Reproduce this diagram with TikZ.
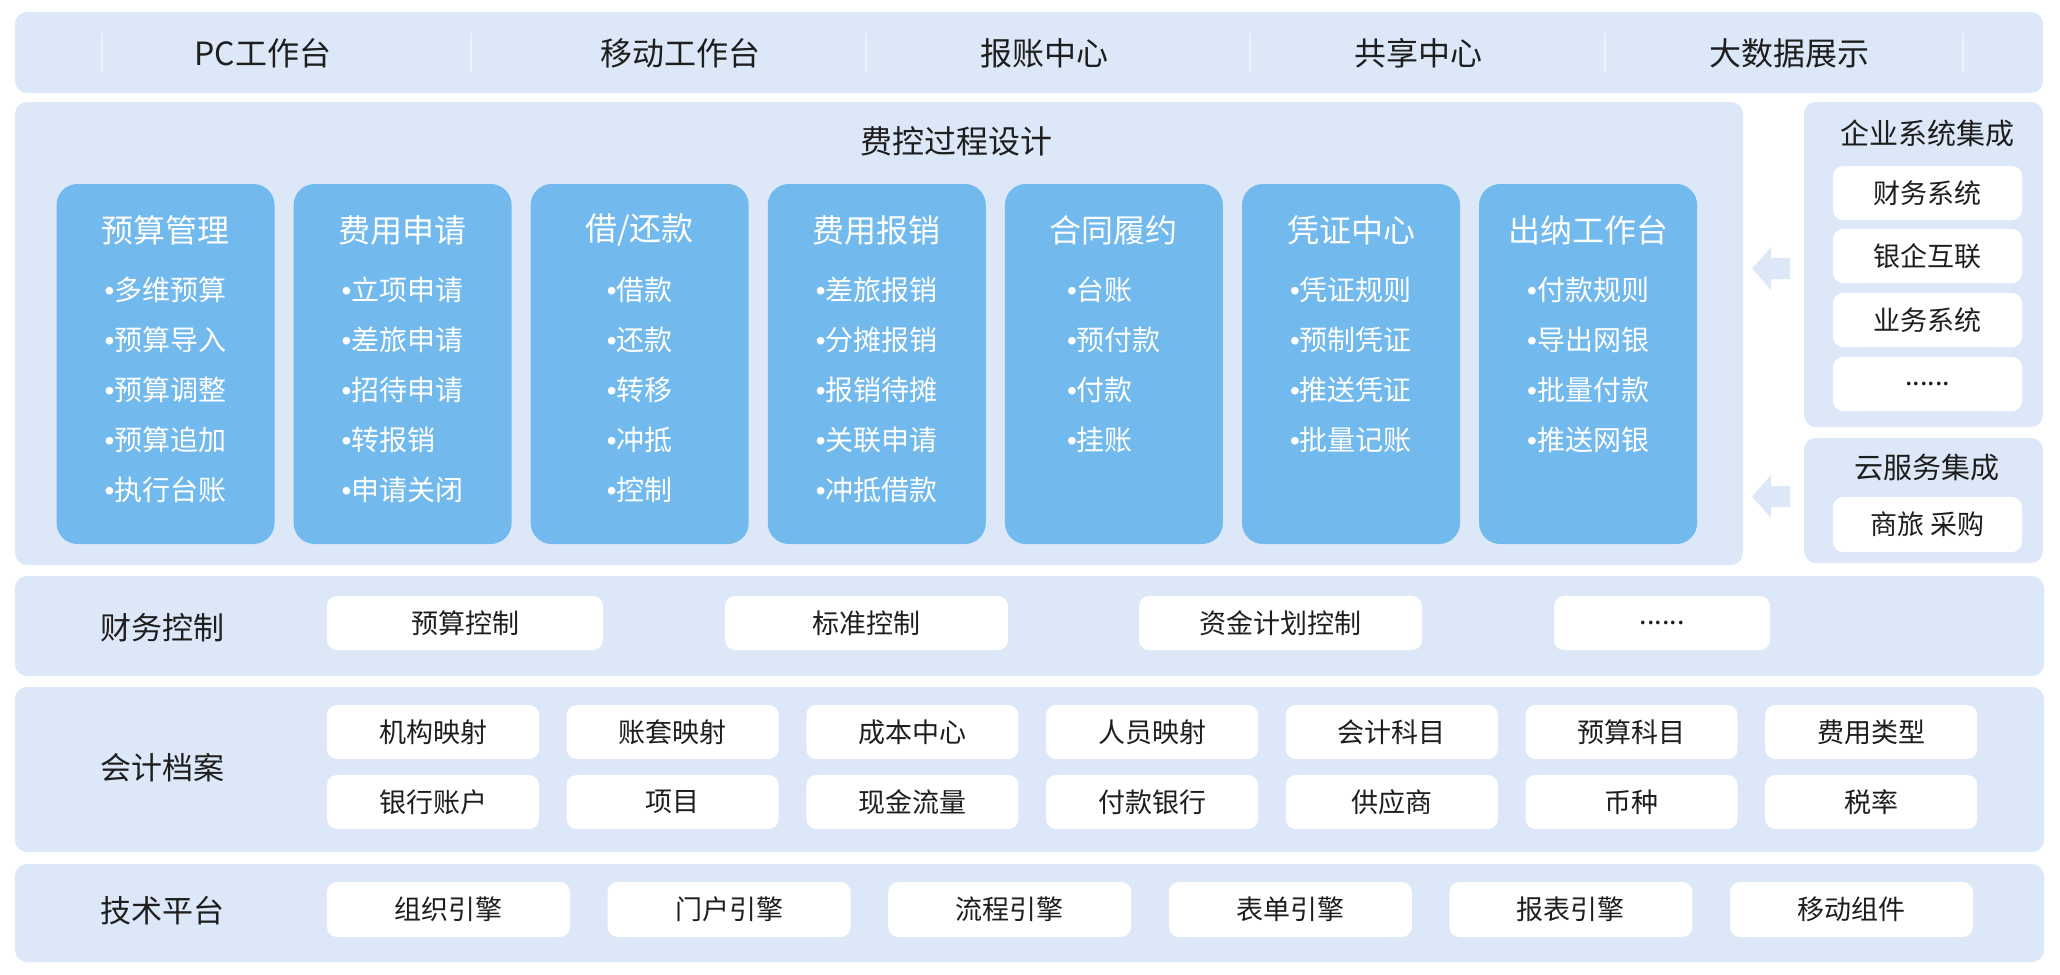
\documentclass[tikz,border=0pt]{standalone}
\usepackage{fontspec}
\setmainfont{Noto Sans CJK SC}
\newfontfamily\bulfont{Liberation Sans}
\definecolor{bandbg}{HTML}{DCE7F8}
\definecolor{boxblue}{HTML}{72B9EE}
\definecolor{sepcol}{HTML}{EDF3FC}
\definecolor{txt}{HTML}{1E1E1E}
\newcommand{\bul}{{\bulfont •}}
\begin{document}
\begin{tikzpicture}[x=1pt,y=-1pt,
  every node/.style={inner sep=0pt, outer sep=0pt, text=txt},
  band/.style args={#1x#2}{fill=bandbg, rounded corners=12pt, minimum width=#1, minimum height=#2},
  bluebox/.style={fill=boxblue, rounded corners=21pt, minimum width=218, minimum height=360},
  wbox/.style args={#1x#2}{fill=white, rounded corners=10pt, minimum width=#1, minimum height=#2, font=\fontsize{27}{27}\selectfont},
  toplabel/.style={font=\fontsize{32}{32}\selectfont},
  rowlabel/.style={font=\fontsize{31}{31}\selectfont},
  btitle/.style={text=white, font=\fontsize{32}{32}\selectfont},
  blist/.style={text=white, anchor=north, align=left, font=\fontsize{28}{50}\selectfont},
  rtitle/.style={font=\fontsize{29}{29}\selectfont},
  sepline/.style={draw=sepcol, line width=1.2pt},
  fatarrow/.style={fill=bandbg}
]
\useasboundingbox (0,0) rectangle (2060,974);
\fill[white] (0,0) rectangle (2060,974);

% ---------- top band ----------
\node[band=2028x81] (top) at (1029,52.5) {};
\foreach \sx in {102,471,866,1250,1605,1963}{
  \draw[sepline] (\sx,33) -- (\sx,73);
}
\node[toplabel] (pc)  at (263,53)  {PC工作台};
\node[toplabel] (mob) at (680,53)  {移动工作台};
\node[toplabel] (bz)  at (1044,53) {报账中心};
\node[toplabel] (gx)  at (1418,53) {共享中心};
\node[toplabel] (dsj) at (1789,53) {大数据展示};

% ---------- main panel ----------
\node[band=1728x463] (main) at (879,333.5) {};
\node[toplabel] (mtitle) at (956,141) {费控过程设计};

\node[bluebox] (b1) at (165.5,364) {};
\node[btitle] (t1) at (165.5,230) {预算管理};
\node[blist] (l1) at (165.5,277) {\bul 多维预算\\\bul 预算导入\\\bul 预算调整\\\bul 预算追加\\\bul 执行台账};

\node[bluebox] (b2) at (402.6,364) {};
\node[btitle] (t2) at (402.6,230) {费用申请};
\node[blist] (l2) at (402.6,277) {\bul 立项申请\\\bul 差旅申请\\\bul 招待申请\\\bul 转报销\\\bul 申请关闭};

\node[bluebox] (b3) at (639.7,364) {};
\node[btitle] (t3) at (639.7,230) {借/还款};
\node[blist] (l3) at (639.7,277) {\bul 借款\\\bul 还款\\\bul 转移\\\bul 冲抵\\\bul 控制};

\node[bluebox] (b4) at (876.8,364) {};
\node[btitle] (t4) at (876.8,230) {费用报销};
\node[blist] (l4) at (876.8,277) {\bul 差旅报销\\\bul 分摊报销\\\bul 报销待摊\\\bul 关联申请\\\bul 冲抵借款};

\node[bluebox] (b5) at (1113.9,364) {};
\node[btitle] (t5) at (1113.9,230) {合同履约};
\node[blist] (l5) at (1113.9,277) {\bul 台账\\\bul 预付款\\\bul 付款\\\bul 挂账};

\node[bluebox] (b6) at (1351,364) {};
\node[btitle] (t6) at (1351,230) {凭证中心};
\node[blist] (l6) at (1351,277) {\bul 凭证规则\\\bul 预制凭证\\\bul 推送凭证\\\bul 批量记账};

\node[bluebox] (b7) at (1588.1,364) {};
\node[btitle] (t7) at (1588.1,230) {出纳工作台};
\node[blist] (l7) at (1588.1,277) {\bul 付款规则\\\bul 导出网银\\\bul 批量付款\\\bul 推送网银};

% ---------- right panels ----------
\node[band=239x325] (ent) at (1923.5,264.5) {};
\node[rtitle] (entt) at (1927,133.5) {企业系统集成};
\node[wbox=189x54] (e1) at (1927.5,193) {财务系统};
\node[wbox=189x54] (e2) at (1927.5,256) {银企互联};
\node[wbox=189x54] (e3) at (1927.5,320) {业务系统};
\node[wbox=189x54] (e4) at (1927.5,384) {......};

\node[band=239x125] (cld) at (1923.5,500.5) {};
\node[rtitle] (cldt) at (1927,468) {云服务集成};
\node[wbox=189x55] (c1) at (1927.5,524.5) {商旅 采购};

% fat arrows (integration -> process design)
\coordinate (a1) at (1752,268.5);
\coordinate (a2) at (1752,496.5);
\foreach \a in {a1,a2}{
  \fill[fatarrow] (\a) -- ++(19,-21.5) -- ++(0,11) -- ++(19,0) -- ++(0,21) -- ++(-19,0) -- ++(0,11) -- cycle;
}

% ---------- 财务控制 ----------
\node[band=2029x100] (fin) at (1029.5,626) {};
\node[rowlabel] (finl) at (162,628) {财务控制};
\node[wbox=276x54] (f1) at (465,623) {预算控制};
\node[wbox=283x54] (f2) at (866.5,623) {标准控制};
\node[wbox=283x54] (f3) at (1280.5,623) {资金计划控制};
\node[wbox=216x54] (f4) at (1662,623) {......};

% ---------- 会计档案 ----------
\node[band=2029x165] (acc) at (1029.5,769.5) {};
\node[rowlabel] (accl) at (162,768) {会计档案};
\foreach \lab [count=\i from 0] in {机构映射,账套映射,成本中心,人员映射,会计科目,预算科目,费用类型}{
  \node[wbox=212x54] (ra\i) at (433+239.7*\i,732) {\lab};
}
\foreach \lab [count=\i from 0] in {银行账户,项目,现金流量,付款银行,供应商,币种,税率}{
  \node[wbox=212x54] (rb\i) at (433+239.7*\i,802) {\lab};
}

% ---------- 技术平台 ----------
\node[band=2029x98] (tec) at (1029.5,913) {};
\node[rowlabel] (tecl) at (162,911) {技术平台};
\foreach \lab [count=\i from 0] in {组织引擎,门户引擎,流程引擎,表单引擎,报表引擎,移动组件}{
  \node[wbox=243x55] (tp\i) at (448.5+280.6*\i,909.5) {\lab};
}
\end{tikzpicture}
\end{document}
